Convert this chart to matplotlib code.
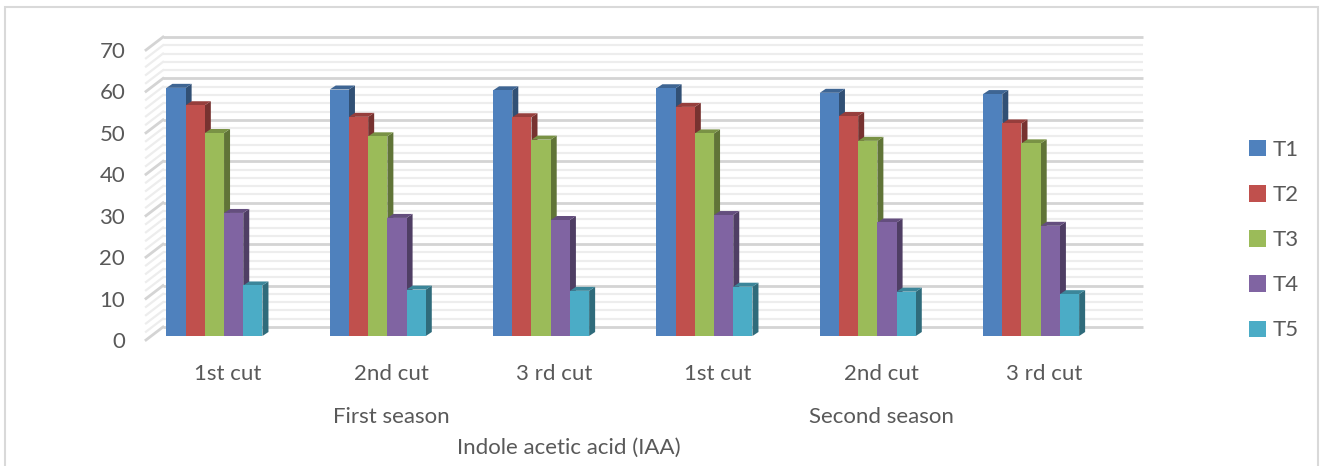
import matplotlib.pyplot as plt
import numpy as np
from matplotlib.patches import Polygon, Rectangle

plt.rcParams['font.family'] = ['Lato', 'DejaVu Sans']

cuts = ['1st cut', '2nd cut', '3 rd cut', '1st cut', '2nd cut', '3 rd cut']
seasons = ['First season', 'Second season']
series = ['T1', 'T2', 'T3', 'T4', 'T5']
t1 = [59.9, 59.5, 59.3, 59.8, 58.7, 58.4]
t2 = [55.7, 52.9, 52.8, 55.3, 53.1, 51.3]
t3 = [49.0, 48.2, 47.4, 48.9, 47.1, 46.5]
t4 = [29.7, 28.5, 28.0, 29.2, 27.4, 26.6]
t5 = [12.2, 11.2, 10.9, 11.9, 10.7, 10.1]
values = [t1, t2, t3, t4, t5]
colors = ['#4F81BD', '#C0504D', '#9BBB59', '#8064A2', '#4BACC6']

W, H = 1323, 466
fig = plt.figure(figsize=(W / 100, H / 100), dpi=100)
fig.patch.set_facecolor('white')
# outer chart border
fig.add_artist(Rectangle((5 / W, -0.05), 1313 / W, 1.05 - 7 / H, transform=fig.transFigure,
                         fill=False, edgecolor='#D9D9D9', lw=1.5))

ax_l, ax_r, ax_b, ax_t = 146, 1126, 340, 50
ax = fig.add_axes([ax_l / W, (H - ax_b) / H, (ax_r - ax_l) / W, (ax_b - ax_t) / H])
ax.set_xlim(-0.5, 5.5)
ax.set_ylim(0, 70)
for s in ax.spines.values():
    s.set_visible(False)
ax.set_facecolor('none')

px_x = (ax_r - ax_l) / 6.0     # pixels per category
px_y = (ax_b - ax_t) / 70.0    # pixels per value unit
DX, DY = 17 / px_x, 13 / px_y   # wall depth
bdy = 4 / px_y                  # bar front depth offset
sdx, sdy = 6 / px_x, 4 / px_y   # bar depth

# back wall + side wall gridlines
for v in range(0, 71, 2):
    major = v % 10 == 0
    c = '#D4D4D4' if major else '#EDEDED'
    lw = 2.0 if major else 1.6
    ax.hlines(v + DY, -0.5 + DX, 5.5 + DX, colors=c, lw=lw, clip_on=False, zorder=0)
    ax.plot([-0.5, -0.5 + DX], [v, v + DY], color=c, lw=lw, clip_on=False, zorder=0)


def shade(col, f):
    r, g, b = plt.matplotlib.colors.to_rgb(col)
    return (r * f, g * f, b * f)


w = 0.1176
x = np.arange(len(cuts))
handles = []
for i, (vals, col) in enumerate(zip(values, colors)):
    xl = x - 0.375 + i * w
    bars = ax.bar(xl, vals, width=w, bottom=bdy, align='edge', color=col,
                  zorder=3 + i, label=series[i], clip_on=False)
    handles.append(bars)
    for xx, v in zip(xl, vals):
        xr = xx + w
        top = v + bdy
        ax.add_patch(Polygon([(xr, bdy), (xr, top), (xr + sdx, top + sdy), (xr + sdx, bdy + sdy)],
                             closed=True, facecolor=shade(col, 0.62), edgecolor='none',
                             zorder=3 + i - 0.5, clip_on=False))
        ax.add_patch(Polygon([(xx, top), (xr, top), (xr + sdx, top + sdy), (xx + sdx, top + sdy)],
                             closed=True, facecolor=shade(col, 0.78), edgecolor='none',
                             zorder=3 + i - 0.5, clip_on=False))

fs = 16
ax.set_yticks(range(0, 71, 10))
ax.set_xticks(x)
ax.set_xticklabels(cuts)
ax.tick_params(axis='both', length=0, labelsize=fs, labelcolor='#595959')
ax.tick_params(axis='y', pad=15)
ax.tick_params(axis='x', pad=17)

for k, name in enumerate(seasons):
    ax.text(1 + 3 * k, -18.5, name, ha='center', va='center', fontsize=fs, color='#595959')
fig.text(569 / W, 1 - 448 / H, 'Indole acetic acid (IAA)', ha='center', va='center',
         fontsize=fs, color='#595959')

fig.legend(handles=handles, labels=series, loc='upper left',
           bbox_to_anchor=(1229 / W, 1 - 120 / H), frameon=False, fontsize=fs,
           handlelength=0.75, handleheight=0.75, handletextpad=0.3, labelspacing=1.13,
           labelcolor='#595959')

fig.savefig('out.png', dpi=100)
